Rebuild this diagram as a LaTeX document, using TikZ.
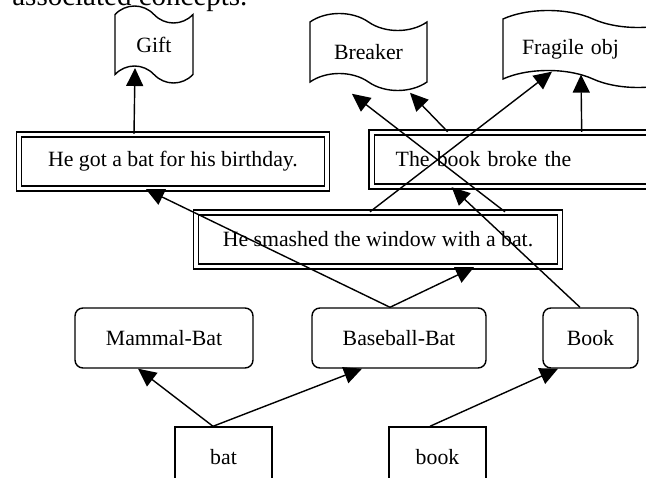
\documentclass[tikz,border=0pt]{standalone}
\usepackage{fontspec}
\setmainfont{Liberation Serif}
\usetikzlibrary{arrows.meta,shapes.symbols}

\begin{document}
\begin{tikzpicture}[font=\fontsize{12.4}{14}\selectfont,
	flag/.style={tape,draw,line width=0.8pt,tape bend top=out and in,tape bend bottom=out and in,
	             tape bend height=0.34cm,minimum height=1.54cm},
	sentence/.style={draw,line width=0.8pt,double,double distance=2.1pt,minimum height=1.08cm},
	concept/.style={draw,line width=0.8pt,rounded corners=0.16cm,minimum height=1.2cm},
	word/.style={draw,line width=0.8pt,minimum width=1.94cm,minimum height=1.2cm}]
	\useasboundingbox (0,0) rectangle (12.92,-9.56);

	\node[anchor=base west,inner sep=0pt,font=\fontsize{16.5}{19}\selectfont] (caption) at (0.24,-0.12) {associated concepts.};

	% roles
	\node[flag,minimum width=1.56cm] (gift) at (3.08,-0.89) {Gift};
	\node[flag,minimum width=2.34cm] (breaker) at (7.37,-1.04) {Breaker};
	\node[flag,text width=2.84cm,inner xsep=0.38cm,align=left] (fragile) at (11.86,-0.98) {Fragile obj};

	% episodes
	\node[sentence,minimum width=6.16cm] (gotbat) at (3.46,-3.23) {He got a bat for his birthday.};
	\node[sentence,anchor=west,text width=6cm,inner xsep=0.48cm,align=left] (broke) at (7.42,-3.19) {The book broke the};
	\node[sentence,minimum width=7.28cm] (smashed) at (7.56,-4.79) {He smashed the window with a bat.};

	% concepts
	\node[concept,minimum width=3.56cm] (mammal) at (3.28,-6.76) {Mammal-Bat};
	\node[concept,minimum width=3.48cm] (baseball) at (7.98,-6.76) {Baseball-Bat};
	\node[concept,minimum width=1.9cm] (bookc) at (11.81,-6.76) {Book};

	% words
	\node[word] (bat) at (4.47,-9.14) {bat};
	\node[word] (book) at (8.75,-9.14) {book};

	\begin{scope}[>={Triangle[length=0.36cm,width=0.34cm]},
	              every edge/.style={draw=black,line width=0.8pt,->}]
		\path ([xshift=-0.78cm]gotbat.north) edge ([xshift=-0.38cm,yshift=0.15cm]gift.south);
		\path ([xshift=2.54cm]smashed.north) edge ([xshift=-0.33cm,yshift=-0.22cm]breaker.south);
		\path ([xshift=-1.96cm]broke.north) edge ([xshift=0.83cm,yshift=-0.2cm]breaker.south);
		\path ([xshift=-0.16cm]smashed.north) edge ([xshift=-0.82cm,yshift=0.16cm]fragile.south);
		\path ([xshift=0.72cm]broke.north) edge ([xshift=-0.24cm,yshift=0.1cm]fragile.south);
		\path ([xshift=-0.18cm]baseball.north) edge ([xshift=-0.54cm]gotbat.south);
		\path ([xshift=-0.18cm]baseball.north) edge ([xshift=1.92cm]smashed.south);
		\path ([xshift=-0.21cm]bookc.north) edge ([xshift=-1.88cm]broke.south);
		\path ([xshift=-0.21cm]bat.north) edge ([xshift=-0.52cm]mammal.south);
		\path ([xshift=-0.21cm]bat.north) edge ([xshift=-0.74cm]baseball.south);
		\path ([xshift=-0.15cm]book.north) edge ([xshift=-0.65cm]bookc.south);
	\end{scope}
\end{tikzpicture}
\end{document}
